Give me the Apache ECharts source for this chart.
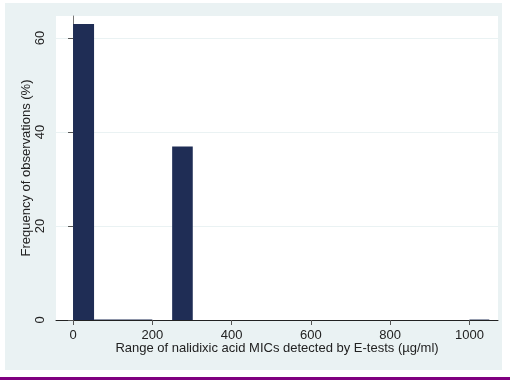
<!DOCTYPE html>
<html><head><meta charset="utf-8">
<script src="https://cdn.jsdelivr.net/npm/echarts@6/dist/echarts.min.js"></script>
<style>html,body{margin:0;padding:0;background:#fff}#c{width:510px;height:383px}</style>
</head><body><div id="c"></div>
<script>
// Histogram bins: start, end (µg/ml), frequency (%)
var binStart = [0, 53, 250, 1000];
var binEnd = [53, 200, 302, 1050];
var freq = [63.0, 0.1, 36.9, 0.1];
var xTicks = [0, 200, 400, 600, 800, 1000];
var yTicks = [0, 20, 40, 60];
var xTitle = 'Range of nalidixic acid MICs detected by E-tests (µg/ml)';
var yTitle = 'Frequency of observations (%)';

var data = binStart.map(function (s, i) { return [s, binEnd[i], freq[i]]; });
var font = '"Liberation Sans", Arial, sans-serif';
var chart = echarts.init(document.getElementById('c'), null, {renderer: 'canvas'});
chart.setOption({
  animation: false,
  backgroundColor: '#ffffff',
  graphic: [
    {type: 'rect', z: -10, shape: {x: 5, y: 3, width: 497, height: 367}, style: {fill: '#eaf2f3'}, silent: true},
    {type: 'rect', z: -10, shape: {x: 0, y: 377, width: 510, height: 3}, style: {fill: '#800080'}, silent: true}
  ],
  grid: {left: 56, top: 16, right: 12, bottom: 63, show: true, backgroundColor: '#ffffff', borderWidth: 0, containLabel: false},
  xAxis: {
    type: 'value', min: -43, max: 1072,
    name: xTitle, nameLocation: 'middle', nameGap: 22, nameMoveOverlap: false,
    nameTextStyle: {fontFamily: font, fontSize: 13, color: '#222'},
    axisLine: {show: true, onZero: false, lineStyle: {color: '#222', width: 1}},
    axisTick: {show: true, length: 5, lineStyle: {color: '#555'}, customValues: xTicks},
    axisLabel: {fontFamily: font, fontSize: 13, color: '#222', margin: 9, customValues: xTicks,
      formatter: function (v) { return String(v); }},
    splitLine: {show: false}
  },
  yAxis: {
    type: 'value', min: 0, max: 64.7,
    name: yTitle, nameLocation: 'middle', nameGap: 23, nameRotate: 90, nameMoveOverlap: false,
    nameTextStyle: {fontFamily: font, fontSize: 13, color: '#222'},
    axisLine: {show: true, lineStyle: {color: '#777', width: 1}},
    axisTick: {show: true, length: 5, lineStyle: {color: '#555'}, customValues: yTicks},
    axisLabel: {fontFamily: font, fontSize: 13, color: '#222', rotate: 90, margin: 9, customValues: yTicks},
    splitLine: {show: true, lineStyle: {color: '#eaf2f3', width: 1}},
    interval: 20
  },
  series: [{
    type: 'custom',
    data: data,
    encode: {x: [0, 1], y: 2},
    renderItem: function (params, api) {
      var p0 = api.coord([api.value(0), api.value(2)]);
      var p1 = api.coord([api.value(1), 0]);
      return {type: 'rect', shape: {x: p0[0], y: p0[1], width: p1[0] - p0[0], height: p1[1] - p0[1]},
        style: {fill: '#1f2d55'}};
    }
  }]
});
</script></body></html>
